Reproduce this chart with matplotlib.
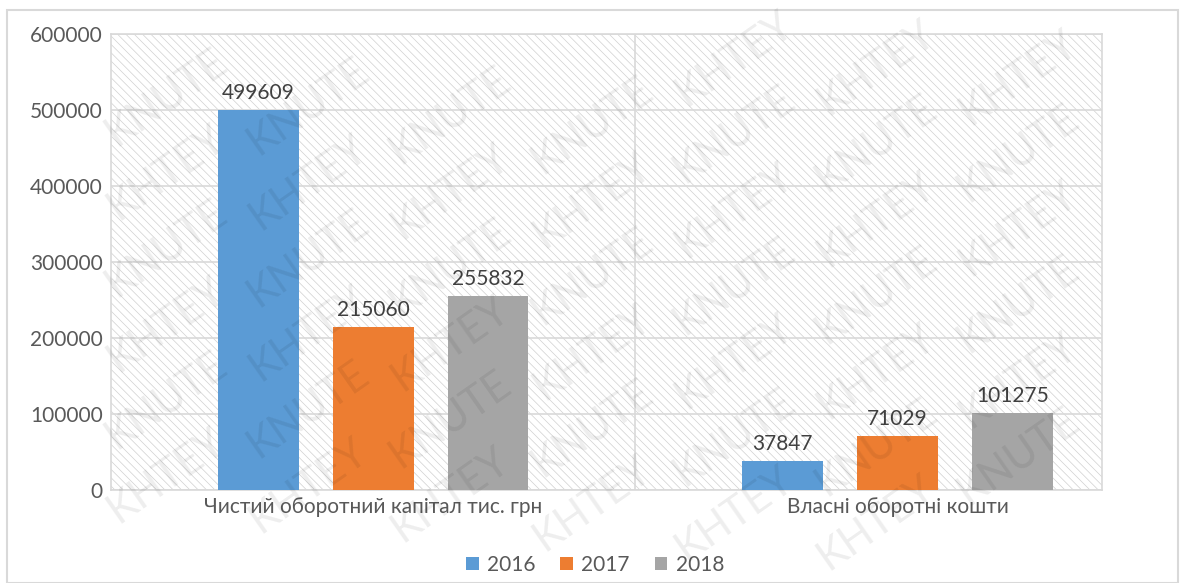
import matplotlib.pyplot as plt
from matplotlib.patches import Rectangle
import numpy as np

# Дані
categories = ["Чистий оборотний капітал тис. грн", "Власні оборотні кошти"]
years = ["2016", "2017", "2018"]
v2016 = [499609, 37847]
v2017 = [215060, 71029]
v2018 = [255832, 101275]
colors = ["#5B9BD5", "#ED7D31", "#A5A5A5"]

plt.rcParams['font.family'] = ['Lato', 'DejaVu Sans']
plt.rcParams['hatch.color'] = '#d0d0d0'
plt.rcParams['hatch.linewidth'] = 0.5

fig = plt.figure(figsize=(11.84, 5.83), dpi=100)
ax = fig.add_axes([111/1184, 1 - 490/583, (1102-111)/1184, (490-34)/583])

# фон з штрихуванням
ax.patch.set_facecolor('white')
ax.patch.set_hatch('\\\\\\\\')
ax.patch.set_edgecolor('#d0d0d0')

x = np.arange(len(categories))
width = 0.154
step = 0.219
for i, (vals, name, c) in enumerate(zip([v2016, v2017, v2018], years, colors)):
    bars = ax.bar(x + (i - 1) * step, vals, width, color=c, label=name, zorder=3)
    for b, v in zip(bars, vals):
        ax.text(b.get_x() + b.get_width() / 2, v + 9000, str(v), ha='center', va='bottom',
                fontsize=15, color='#404040', zorder=4)

ax.set_xlim(-0.5, 1.39)
ax.set_ylim(0, 600000)
ax.set_yticks(range(0, 600001, 100000))
ax.yaxis.grid(True, color='#d9d9d9', linewidth=1.2, zorder=1)
ax.axvline(0.5, color='#d9d9d9', linewidth=1.2, zorder=1)
ax.set_xticks(x)
ax.set_xticklabels(categories)
ax.tick_params(axis='both', length=0, labelsize=15, labelcolor='#595959')
ax.tick_params(axis='y', pad=6)
ax.tick_params(axis='x', pad=5)
for s in ax.spines.values():
    s.set_color('#d9d9d9')
    s.set_linewidth(1.2)

ax.legend(loc='center', bbox_to_anchor=(595/1184, 1 - 565/583), bbox_transform=fig.transFigure,
          ncol=3, frameon=False, fontsize=15, handlelength=0.6, handleheight=0.6,
          handletextpad=0.4, columnspacing=1.2, labelcolor='#595959', borderpad=0.1)

# рамка діаграми
fig.patches.append(Rectangle((7/1184, 0), (1178-7)/1184, 1 - 10/583, transform=fig.transFigure,
                             fill=False, edgecolor='#d9d9d9', linewidth=1.5))

# водяний знак (лише ті написи, що повністю вміщаються)
words = ["KNUTE", "KHTEY"]
marks = []
for r, yy in enumerate(np.arange(-0.6, 1.3, 0.13)):
    for k, xx in enumerate(np.arange(-0.1, 1.1, 0.12)):
        marks.append(fig.text(xx, yy + xx * 0.95, words[(k + r) % 2], rotation=35,
                              fontsize=30, color='#000000', alpha=0.07,
                              ha='center', va='center', zorder=10))
fig.canvas.draw()
r0 = fig.canvas.get_renderer()
for t in marks:
    bb = t.get_window_extent(r0)
    if bb.x0 < 1 or bb.y0 < 1 or bb.x1 > 1183 or bb.y1 > 582:
        t.remove()

fig.savefig('out.png', dpi=100)
